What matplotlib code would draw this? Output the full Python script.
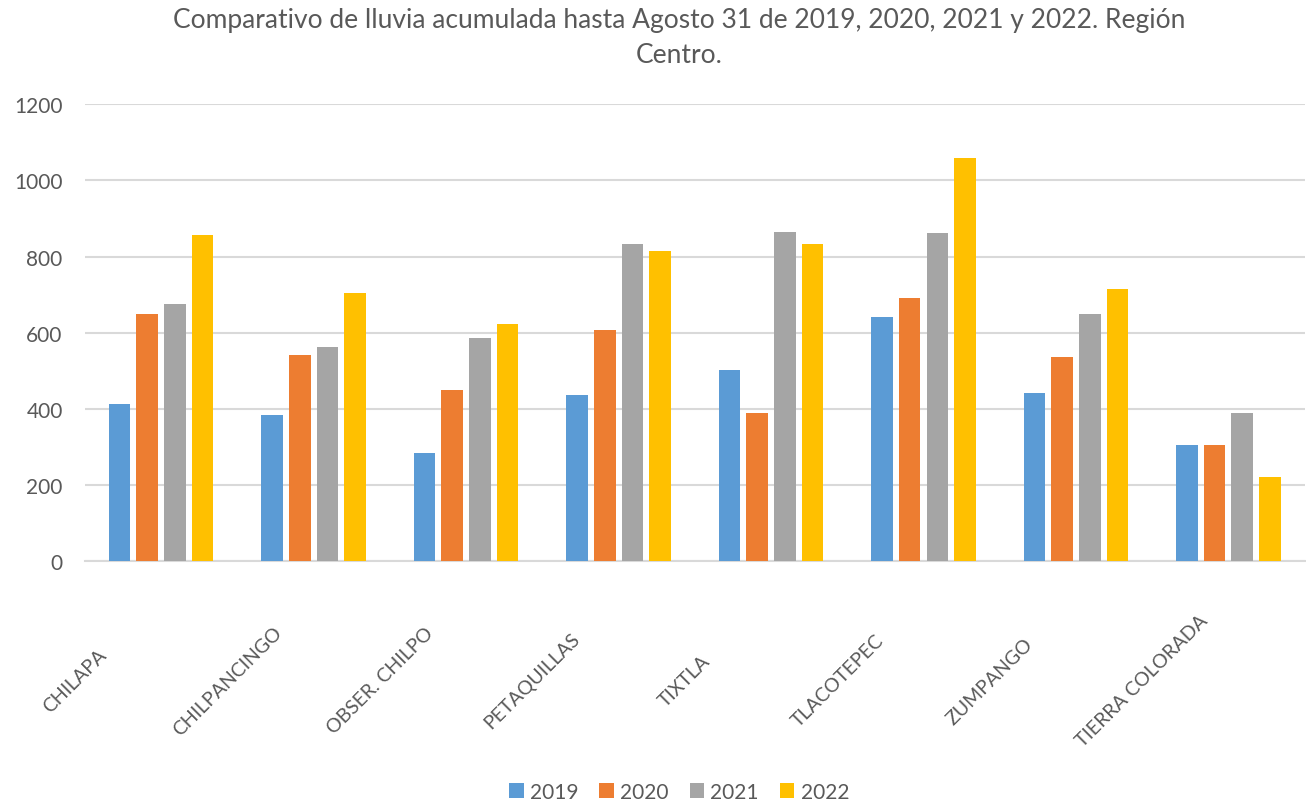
import numpy as np
import matplotlib.pyplot as plt
from matplotlib.transforms import ScaledTranslation

plt.rcParams['font.family'] = ['Lato', 'DejaVu Sans']

# Estaciones de la Región Centro
estaciones = ['CHILAPA', 'CHILPANCINGO', 'OBSER. CHILPO', 'PETAQUILLAS',
              'TIXTLA', 'TLACOTEPEC', 'ZUMPANGO', 'TIERRA COLORADA']

# Lluvia acumulada (mm)
lluvia_2019 = [412, 384, 283, 436, 501, 641, 442, 305]
lluvia_2020 = [650, 542, 449, 608, 389, 691, 537, 305]
lluvia_2021 = [676, 562, 587, 834, 865, 861, 649, 389]
lluvia_2022 = [856, 705, 624, 814, 834, 1060, 716, 221]

anios = ['2019', '2020', '2021', '2022']
colores = ['#5B9BD5', '#ED7D31', '#A5A5A5', '#FFC000']
series = [lluvia_2019, lluvia_2020, lluvia_2021, lluvia_2022]

texto = '#595959'

fig = plt.figure(figsize=(13.06, 8.04), dpi=100)
ax = fig.add_axes([0.065, 0.301, 0.934, 0.568])

x = np.arange(len(estaciones))
paso = 0.1815
ancho = 0.142
for k, (vals, anio, col) in enumerate(zip(series, anios, colores)):
    ax.bar(x + (k - 1.5) * paso, vals, width=ancho, color=col, label=anio, zorder=3)

ax.set_xlim(-0.5, len(estaciones) - 0.5)
ax.set_ylim(0, 1200)
ax.set_yticks(np.arange(0, 1201, 200))
ax.grid(axis='y', color='#D9D9D9', linewidth=1.5, zorder=0)
for s in ['top', 'right', 'left']:
    ax.spines[s].set_visible(False)
ax.spines['bottom'].set_color('#D9D9D9')
ax.spines['bottom'].set_linewidth(1.5)

ax.tick_params(axis='y', length=0, pad=16, labelsize=15, labelcolor=texto)
ax.tick_params(axis='x', length=0, pad=86, labelsize=14, labelcolor=texto)
ax.set_xticks(x)
ax.set_xticklabels(estaciones, rotation=45, ha='center', va='center',
                   rotation_mode='anchor')
offset = ScaledTranslation(-0.86, 0, fig.dpi_scale_trans)
for lab in ax.get_xticklabels():
    lab.set_transform(lab.get_transform() + offset)

fig.text(0.52, 0.99, 'Comparativo de lluvia acumulada hasta Agosto 31 de 2019, 2020, 2021 y 2022. Región\nCentro.',
         ha='center', va='top', fontsize=19, color=texto, linespacing=1.5)

fig.legend(loc='lower center', bbox_to_anchor=(0.52, -0.022), ncol=4, frameon=False,
           fontsize=15, labelcolor=texto, handlelength=0.7, handleheight=0.7,
           handletextpad=0.3, columnspacing=1.0)

fig.savefig('out.png', dpi=100)
